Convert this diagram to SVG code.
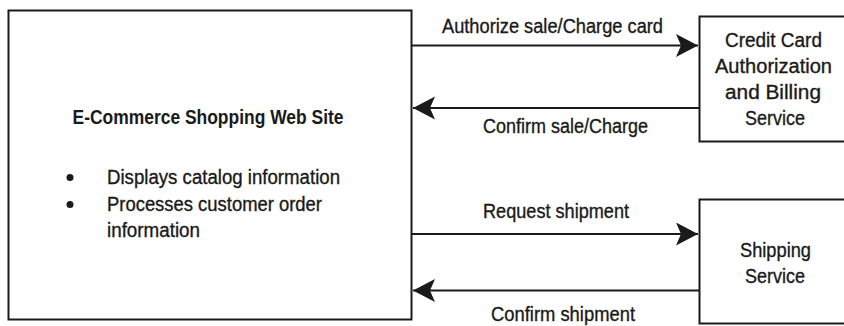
<svg xmlns="http://www.w3.org/2000/svg" width="844" height="326" viewBox="0 0 844 326">
  <style>
    .box { fill: #fff; stroke: #1a1a1a; stroke-width: 2; }
    .conn { stroke: #1a1a1a; stroke-width: 2; fill: none; }
    text { font-family: "Liberation Sans", Arial, sans-serif; font-size: 20px; fill: #1a1a1a; stroke: #1a1a1a; stroke-width: 0.35px; }
    .b { font-weight: bold; stroke-width: 0; }
    .m { text-anchor: middle; }
  </style>
  <defs>
    <marker id="ah" markerUnits="userSpaceOnUse" markerWidth="24" markerHeight="24" viewBox="0 0 24 24" refX="22" refY="11.5" orient="auto">
      <path d="M0,0 L22,11.5 L0,23 L5,11.5 Z" fill="#1a1a1a"/>
    </marker>
  </defs>
  <rect width="844" height="326" fill="#fff"/>
  <g id="site">
    <rect class="box" x="8.5" y="10.5" width="403" height="309"/>
    <text class="b" x="72.5" y="124" textLength="271" lengthAdjust="spacingAndGlyphs">E-Commerce Shopping Web Site</text>
    <circle cx="70" cy="177.5" r="3.5" fill="#1a1a1a"/>
    <circle cx="70" cy="204.5" r="3.5" fill="#1a1a1a"/>
    <text x="107" y="184" textLength="233" lengthAdjust="spacingAndGlyphs">Displays catalog information</text>
    <text x="107" y="211" textLength="215" lengthAdjust="spacingAndGlyphs">Processes customer order</text>
    <text x="107" y="237" textLength="93" lengthAdjust="spacingAndGlyphs">information</text>
  </g>
  <g id="credit">
    <rect class="box" x="699.5" y="16.5" width="150" height="125"/>
    <text class="m" x="773.5" y="47" textLength="97" lengthAdjust="spacingAndGlyphs">Credit Card</text>
    <text class="m" x="773.5" y="73" textLength="117" lengthAdjust="spacingAndGlyphs">Authorization</text>
    <text class="m" x="773" y="99" textLength="96" lengthAdjust="spacingAndGlyphs">and Billing</text>
    <text class="m" x="775" y="125" textLength="60" lengthAdjust="spacingAndGlyphs">Service</text>
  </g>
  <g id="shipping">
    <rect class="box" x="699.5" y="199.5" width="150" height="124"/>
    <text class="m" x="775.5" y="257" textLength="71" lengthAdjust="spacingAndGlyphs">Shipping</text>
    <text class="m" x="775" y="283" textLength="60" lengthAdjust="spacingAndGlyphs">Service</text>
  </g>
  <g id="connectors">
    <line class="conn" x1="412" y1="45.5" x2="698" y2="45.5" marker-end="url(#ah)"/>
    <text x="442" y="33" textLength="221" lengthAdjust="spacingAndGlyphs">Authorize sale/Charge card</text>
    <line class="conn" x1="699" y1="108" x2="413" y2="108" marker-end="url(#ah)"/>
    <text x="483" y="133" textLength="165" lengthAdjust="spacingAndGlyphs">Confirm sale/Charge</text>
    <line class="conn" x1="412" y1="234" x2="698" y2="234" marker-end="url(#ah)"/>
    <text x="483" y="218" textLength="146" lengthAdjust="spacingAndGlyphs">Request shipment</text>
    <line class="conn" x1="699" y1="290.5" x2="413" y2="290.5" marker-end="url(#ah)"/>
    <text x="491" y="321" textLength="144" lengthAdjust="spacingAndGlyphs">Confirm shipment</text>
  </g>
</svg>
